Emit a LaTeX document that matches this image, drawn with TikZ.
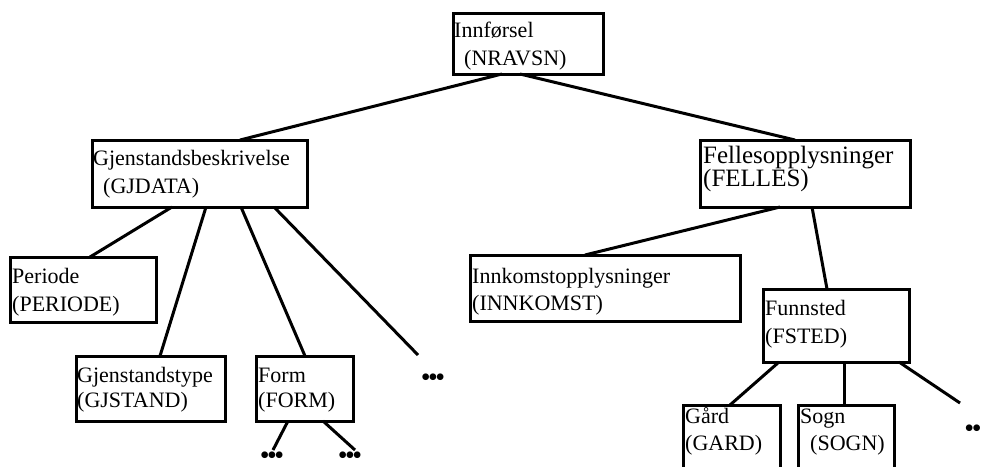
\documentclass[tikz,border=0pt]{standalone}
\usepackage{fontspec}
\setmainfont{Liberation Serif}
\begin{document}
\begin{tikzpicture}[x=1pt,y=-1pt,
  box/.style={draw,line width=3pt,inner sep=0pt,outer sep=0pt},
  lbl/.style={anchor=base west,inner sep=0pt,font=\fontsize{22}{26}\selectfont},
  flbl/.style={anchor=base west,inner sep=0pt,font=\fontsize{25}{26}\selectfont},
  dots/.style={anchor=base,inner sep=0pt,font=\fontsize{28}{30}\selectfont},
  conn/.style={line width=3pt}]
\useasboundingbox (0,0) rectangle (982,466);
\clip (0,0) rectangle (982,466);
% boxes
\node[box,minimum width=150pt,minimum height=61pt] (A) at (528,43.5) {};
\node[box,minimum width=215pt,minimum height=67pt] (B) at (199.5,173.5) {};
\node[box,minimum width=210pt,minimum height=67pt] (C) at (805,173.5) {};
\node[box,minimum width=146pt,minimum height=65pt] (D) at (83,289.5) {};
\node[box,minimum width=270pt,minimum height=66pt] (E) at (605,288) {};
\node[box,minimum width=149pt,minimum height=65pt] (F) at (150.5,388.5) {};
\node[box,minimum width=97pt,minimum height=65pt] (G) at (304.5,388.5) {};
\node[box,minimum width=146pt,minimum height=73pt] (H) at (836,325.5) {};
\node[box,minimum width=97pt,minimum height=75pt] (I) at (731.5,442.5) {};
\node[box,minimum width=96pt,minimum height=75pt] (J) at (846,442.5) {};
% texts
\node[lbl] (A1) at (454,37) {Innførsel};
\node[lbl] (A2) at (464,65) {(NRAVSN)};
\node[lbl] (B1) at (93,165) {Gjenstandsbeskrivelse};
\node[lbl] (B2) at (103,193) {(GJDATA)};
\node[flbl] (C1) at (703,163) {Fellesopplysninger};
\node[flbl] (C2) at (703,186) {(FELLES)};
\node[lbl] (D1) at (12,283) {Periode};
\node[lbl] (D2) at (12,311) {(PERIODE)};
\node[lbl] (E1) at (472,283) {Innkomstopplysninger};
\node[lbl] (E2) at (472,310) {(INNKOMST)};
\node[lbl] (F1) at (77,382) {Gjenstandstype};
\node[lbl] (F2) at (77,407) {(GJSTAND)};
\node[lbl] (G1) at (258,382) {Form};
\node[lbl] (G2) at (258,407) {(FORM)};
\node[lbl] (H1) at (765,315) {Funnsted};
\node[lbl] (H2) at (765,343) {(FSTED)};
\node[lbl] (I1) at (685,423) {Gård};
\node[lbl] (I2) at (685,450) {(GARD)};
\node[lbl] (J1) at (800,423) {Sogn};
\node[lbl] (J2) at (810,450) {(SOGN)};
% dots
\node[dots] (d1) at (433,386) {•\kern-2.5pt•\kern-2.5pt•};
\node[dots] (d2) at (272,464) {•\kern-2.5pt•\kern-2.5pt•};
\node[dots] (d3) at (350,464) {•\kern-2.5pt•\kern-2.5pt•};
\node[dots] (d4) at (973,437) {•\kern-2.5pt•};
\coordinate (e1) at (418,355);
\coordinate (e2) at (273,450);
\coordinate (e3) at (355,450);
\coordinate (e4) at (960,403);
% connectors
\draw[conn] ([xshift=49pt]A.south west) -- ([xshift=148pt]B.north west);
\draw[conn] ([xshift=67pt]A.south west) -- ([xshift=95pt]C.north west);
\draw[conn] ([xshift=80pt]B.south west) -- ([xshift=80pt]D.north west);
\draw[conn] ([xshift=114pt]B.south west) -- ([xshift=84pt]F.north west);
\draw[conn] ([xshift=149pt]B.south west) -- ([xshift=49pt]G.north west);
\draw[conn] ([xshift=182pt]B.south west) -- (e1);
\draw[conn] ([xshift=32pt]G.south west) -- (e2);
\draw[conn] ([xshift=67pt]G.south west) -- (e3);
\draw[conn] ([xshift=80pt]C.south west) -- ([xshift=115pt]E.north west);
\draw[conn] ([xshift=112pt]C.south west) -- ([xshift=64pt]H.north west);
\draw[conn] ([xshift=16pt]H.south west) -- ([xshift=47pt]I.north west);
\draw[conn] ([xshift=81pt]H.south west) -- ([xshift=46pt]J.north west);
\draw[conn] ([xshift=136pt]H.south west) -- (e4);
\end{tikzpicture}
\end{document}
